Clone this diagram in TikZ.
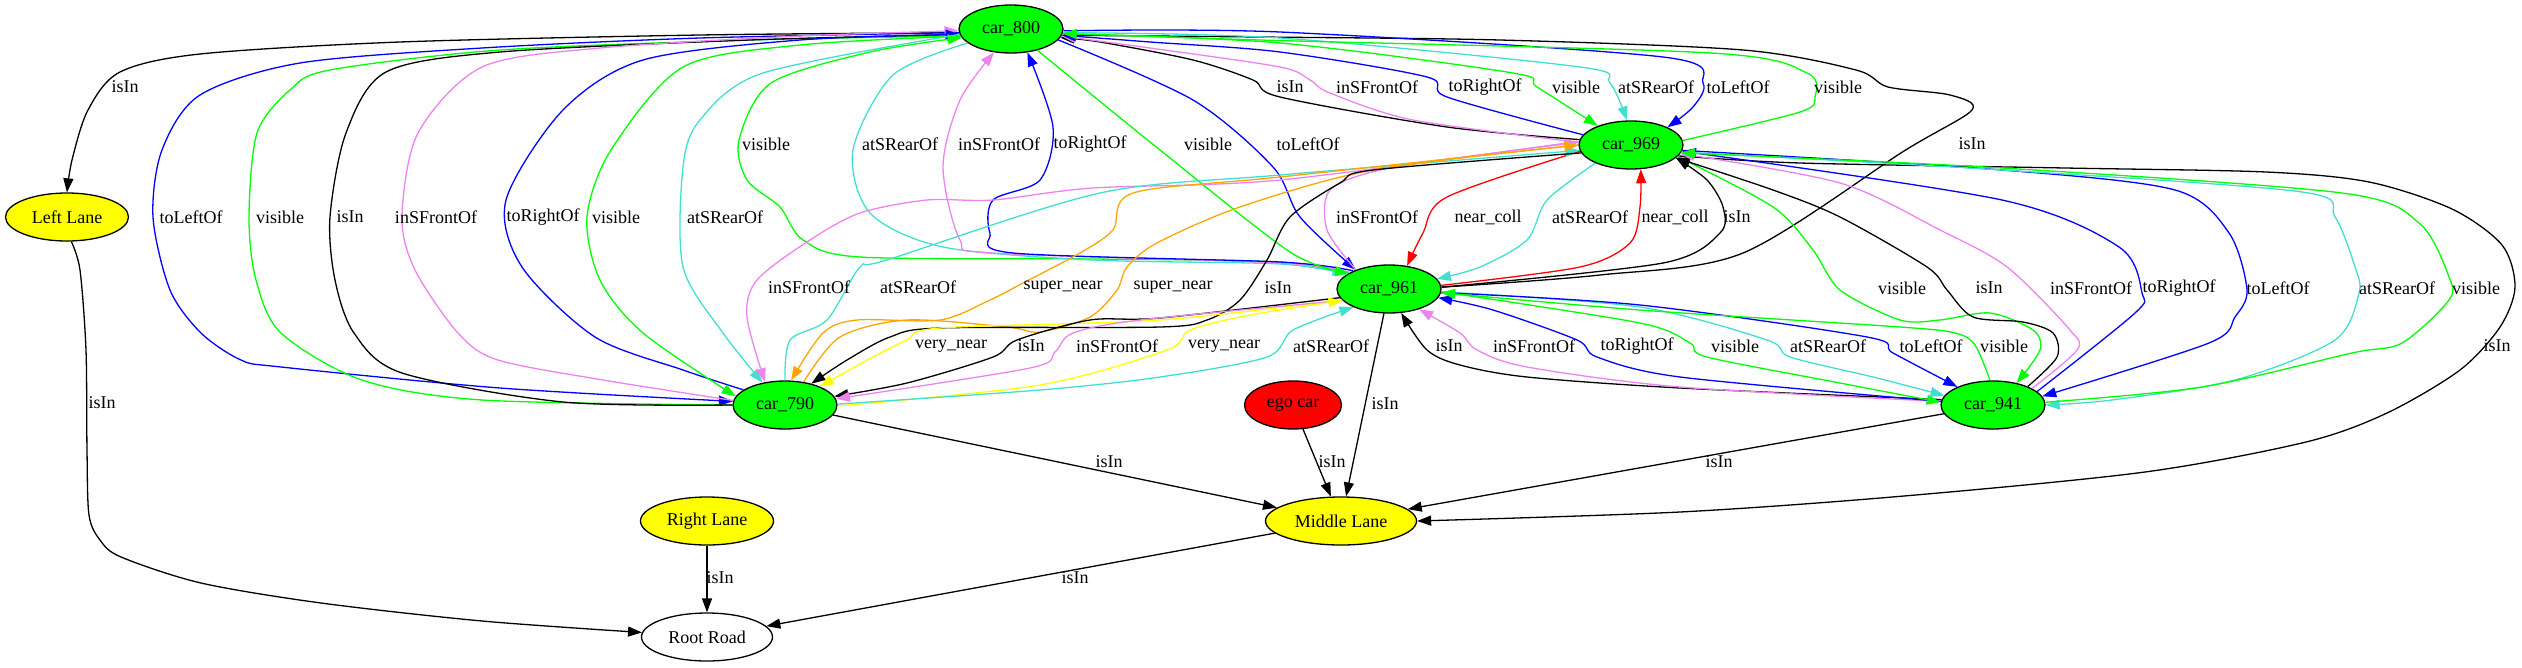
\documentclass[tikz,border=0pt]{standalone}
\usepackage{fontspec}
\setmainfont{Liberation Serif}
\usetikzlibrary{shapes.geometric,arrows.meta}
\definecolor{vgreen}{HTML}{00FF00}
\definecolor{vblue}{HTML}{0000FF}
\definecolor{gviolet}{HTML}{EE82EE}
\definecolor{turq}{HTML}{40E0D0}
\definecolor{gorange}{HTML}{FFA500}
\definecolor{yel}{HTML}{FFFF00}
\definecolor{gred}{HTML}{FF0000}
\tikzset{
  every node/.style={font=\rmfamily\fontsize{18pt}{21pt}\selectfont},
  carn/.style={ellipse, draw, line width=1.3pt, fill=vgreen, minimum width=104pt, minimum height=48pt, inner sep=0pt},
  lanen/.style={ellipse, draw, line width=1.3pt, fill=yel, minimum height=48pt, inner sep=0pt},
  lbl/.style={inner sep=0pt},
  edg/.style={line width=1.3pt, -{Triangle[length=14pt,width=10pt]}},
  sm/.style={smooth, tension=0.5}
}
\begin{document}
\begin{tikzpicture}[x=1pt,y=-1pt]
\useasboundingbox (0,0) rectangle (2522,667);
% nodes
\node[carn] (c800) at (1011,29) {car\_800};
\node[carn] (c969) at (1631,145) {car\_969};
\node[carn] (c961) at (1389,289) {car\_961};
\node[carn] (c790) at (785,405) {car\_790};
\node[carn] (c941) at (1993,405) {car\_941};
\node[ellipse, draw, line width=1.3pt, fill=gred, minimum width=97pt, minimum height=48pt, inner sep=0pt] (ego) at (1293,405) {ego car};
\node[lanen, minimum width=123pt] (ll) at (67,217) {Left Lane};
\node[lanen, minimum width=133pt] (rl) at (707,521) {Right Lane};
\node[lanen, minimum width=151pt] (ml) at (1341,521) {Middle Lane};
\node[ellipse, draw, line width=1.3pt, fill=white, minimum width=131pt, minimum height=48pt, inner sep=0pt] (rr) at (707,637) {Root Road};

% lane edges
\draw[edg] plot[sm] coordinates {(c800.184) (700,35) (400,42) (200,54) (120,72) (88,110) (72,160) (ll.north)};
\draw[edg] plot[sm] coordinates {(ll.-80) (80,270) (86,350) (87,450) (89,515) (100,540) (121,557) (201,583) (321,603) (482,621) (rr.176)};
\draw[edg] (rl) -- (rr);
\draw[edg] (ml) -- (rr);
\draw[edg] (c790) -- (ml);
\draw[edg] (ego) -- (ml);
\draw[edg] (c961) -- (ml);
\draw[edg] (c941) -- (ml);
\draw[edg] plot[sm] coordinates {(c969.347) (1800,163) (2065,168) (2266,172) (2369,182) (2452,209) (2502,245) (2515,287) (2500,327) (2460,370) (2387,413) (2306,442) (2145,472) (1904,496) (1680,512) (ml.east)};

% car_800 <-> car_790
\draw[edg,vblue] plot[sm] coordinates {(c800.184) (700,38) (482,48) (300,63) (200,95) (162,150) (153,217) (170,290) (201,333) (241,360) (281,367) (500,388) (c790.176)};
\draw[edg,vgreen] plot[sm] coordinates {(c790.180) (482,400) (362,380) (281,333) (256,280) (249,217) (257,133) (290,90) (330,70) (500,50) (750,40) (c800.188)};
\draw[edg] plot[sm] coordinates {(c790.180) (563,402) (402,373) (354,333) (335,280) (330,217) (346,133) (386,72) (500,52) (750,40) (c800.186)};
\draw[edg,gviolet] plot[sm] coordinates {(c790.175) (603,380) (498,360) (458,333) (415,270) (402,217) (418,133) (482,67) (600,48) (800,36) (c800.182)};
\draw[edg,vblue] plot[sm] coordinates {(c790.160) (683,370) (595,337) (522,267) (506,200) (563,110) (643,60) (800,40) (c800.186)};
\draw[edg,vgreen] plot[sm] coordinates {(c800.188) (800,45) (683,67) (611,150) (587,217) (600,280) (643,333) (c790.170)};
\draw[edg,turq] plot[sm] coordinates {(c800.186) (763,73) (700,120) (683,167) (683,267) (723,333) (c790.135)};

% car_800 <-> car_961
\draw[edg,vgreen] plot[sm] coordinates {(c961.161) (1280,262) (1093,259) (860,257) (803,240) (780,207) (747,180) (739,140) (771,83) (870,52) (c800.190)};
\draw[edg,turq] plot[sm] coordinates {(c800.198) (893,75) (853,150) (870,213) (943,247) (1093,260) (1280,264) (c961.161)};
\draw[edg,gviolet] plot[sm] coordinates {(c961.157) (1280,263) (993,253) (960,240) (943,167) (960,100) (c800.234)};
\draw[edg,vblue] plot[sm] coordinates {(c961.153) (1280,262) (1013,253) (990,233) (993,200) (1040,180) (1053,127) (c800.305)};
\draw[edg,vgreen] plot[sm] coordinates {(c800.321) (1160,150) (1290,252) (c961.158)};
\draw[edg,vblue] plot[sm] coordinates {(c800.347) (1193,100) (1273,167) (1300,217) (c961.150)};
\draw[edg] plot[sm] coordinates {(c961.2) (1600,275) (1743,253) (1904,151) (1972,110) (1950,95) (1888,87) (1856,70) (1743,50) (1500,40) (1260,37) (c800.353)};

% car_800 <-> car_969
\draw[edg] plot[sm] coordinates {(c969.174) (1447,127) (1280,97) (1253,80) (1193,60) (1100,42) (c800.350)};
\draw[edg,gviolet] plot[sm] coordinates {(c969.177) (1413,120) (1330,93) (1310,80) (1280,67) (1150,48) (c800.352)};
\draw[edg,vblue] plot[sm] coordinates {(c969.168) (1447,97) (1427,77) (1280,52) (1150,42) (c800.353)};
\draw[edg,vgreen] plot[sm] coordinates {(c800.355) (1280,43) (1513,73) (1537,87) (c969.150)};
\draw[edg,turq] plot[sm] coordinates {(c800.356) (1280,38) (1580,67) (1610,83) (c969.99)};
\draw[edg,vblue] plot[sm] coordinates {(c800.358) (1280,32) (1663,57) (1703,83) (1693,107) (c969.26)};
\draw[edg,vgreen] plot[sm] coordinates {(c969.5) (1800,112) (1815,97) (1807,73) (1711,53) (1260,40) (c800.355)};

% car_969 <-> car_961
\draw[edg,gviolet] plot[sm] coordinates {(c961.150) (1327,230) (1330,190) (1380,170) (1480,155) (c969.177)};
\draw[edg,gred] plot[sm] coordinates {(c969.187) (1447,197) (1423,233) (c961.52)};
\draw[edg,turq] plot[sm] coordinates {(c969.207) (1547,200) (1527,240) (1480,267) (c961.12)};
\draw[edg,gred] plot[sm] coordinates {(c961.4) (1580,267) (1630,243) (1640,207) (c969.292)};
\draw[edg] plot[sm] coordinates {(c961.2) (1663,263) (1720,233) (1723,207) (1707,180) (c969.344)};

% car_969 <-> car_790
\draw[edg,gviolet] plot[sm] coordinates {(c969.176) (1280,180) (1093,188) (993,200) (927,200) (860,213) (810,240) (757,280) (747,317) (c790.131)};
\draw[edg,turq] plot[sm] coordinates {(c790.90) (790,340) (827,320) (860,267) (887,260) (1100,193) (1280,175) (c969.186)};
\draw[edg,gorange] plot[sm] coordinates {(c969.180) (1280,177) (1133,193) (1113,230) (1080,253) (1023,283) (990,300) (940,320) (857,320) (823,333) (c790.76)};
\draw[edg,gorange] plot[sm] coordinates {(c790.51) (840,337) (907,320) (1007,327) (1040,332) (1090,317) (1117,290) (1127,267) (1157,243) (1240,207) (1373,170) (c969.180)};
\draw[edg] plot[sm] coordinates {(c969.189) (1373,170) (1340,183) (1290,217) (1267,260) (1240,300) (1207,320) (1160,327) (940,328) (890,337) (847,360) (c790.39)};

% car_961 <-> car_790
\draw[edg,yel] plot[sm] coordinates {(c961.193) (1160,320) (940,328) (907,340) (873,357) (c790.28)};
\draw[edg] plot[sm] coordinates {(c961.190) (1160,318) (1090,320) (1017,340) (993,357) (907,383) (c790.10)};
\draw[edg,gviolet] plot[sm] coordinates {(c961.194) (1140,320) (1073,333) (1055,352) (1030,368) (c790.7)};
\draw[edg,yel] plot[sm] coordinates {(c790.-1) (1040,385) (1167,350) (1190,330) (1250,315) (c961.194)};
\draw[edg,turq] plot[sm] coordinates {(c790.1) (1040,390) (1160,377) (1267,357) (1293,330) (c961.207)};

% car_961 <-> car_941
\draw[edg] plot[sm] coordinates {(c941.174) (1680,388) (1527,377) (1460,365) (1427,350) (c961.297)};
\draw[edg,gviolet] plot[sm] coordinates {(c941.176) (1680,387) (1527,367) (1477,350) (1460,333) (c961.326)};
\draw[edg,vblue] plot[sm] coordinates {(c941.176) (1680,377) (1597,357) (1577,340) (1493,310) (c961.350)};
\draw[edg,vgreen] plot[sm] coordinates {(c961.357) (1640,323) (1690,343) (1707,357) (1840,383) (c941.177)};
\draw[edg,turq] plot[sm] coordinates {(c961.357) (1640,307) (1767,340) (1790,357) (1873,377) (c941.169)};
\draw[edg,vblue] plot[sm] coordinates {(c961.356) (1640,305) (1867,337) (1893,353) (c941.153)};
\draw[edg,vgreen] plot[sm] coordinates {(c941.97) (1975,345) (1955,333) (1900,327) (1640,310) (c961.356)};

% car_969 <-> car_941
\draw[edg,vgreen] plot[sm] coordinates {(c969.346) (1773,207) (1813,250) (1840,290) (1900,320) (1940,320) (1990,313) (2033,330) (2040,350) (c941.43)};
\draw[edg] plot[sm] coordinates {(c941.28) (2057,357) (2053,333) (2023,322) (1973,317) (1947,290) (1927,267) (1840,217) (1773,190) (c969.344)};
\draw[edg,gviolet] plot[sm] coordinates {(c941.23) (2077,350) (2070,330) (2007,267) (1940,230) (1840,183) (c969.350)};
\draw[edg,vblue] plot[sm] coordinates {(c941.17) (2135,313) (2142,293) (2119,247) (2002,200) (c969.353)};
\draw[edg,vblue] plot[sm] coordinates {(c969.354) (2002,170) (2175,190) (2229,233) (2247,290) (2235,317) (2209,343) (c941.10)};
\draw[edg,turq] plot[sm] coordinates {(c969.352) (2002,170) (2302,192) (2335,217) (2355,267) (2359,293) (2335,340) (2235,380) (2112,400) (c941.0)};
\draw[edg,vgreen] plot[sm] coordinates {(c941.3) (2202,387) (2352,353) (2402,343) (2449,300) (2449,277) (2419,223) (2342,193) (2002,168) (c969.351)};

% labels
\node[lbl] (t1) at (125,87) {isIn};
\node[lbl] (t2) at (191,217) {toLeftOf};
\node[lbl] (t3) at (280,217) {visible};
\node[lbl] (t4) at (350,217) {isIn};
\node[lbl] (t5) at (436,217) {inSFrontOf};
\node[lbl] (t6) at (543,217) {toRightOf};
\node[lbl] (t7) at (616,217) {visible};
\node[lbl] (t8) at (725,217) {atSRearOf};
\node[lbl] (t9) at (766,144) {visible};
\node[lbl] (t10) at (900,144) {atSRearOf};
\node[lbl] (t11) at (999,144) {inSFrontOf};
\node[lbl] (t12) at (1090,144) {toRightOf};
\node[lbl] (t13) at (1208,144) {visible};
\node[lbl] (t14) at (1308,144) {toLeftOf};
\node[lbl] (t15) at (1972,144) {isIn};
\node[lbl] (t16) at (1290,87) {isIn};
\node[lbl] (t17) at (1377,87) {inSFrontOf};
\node[lbl] (t18) at (1485,87) {toRightOf};
\node[lbl] (t19) at (1576,87) {visible};
\node[lbl] (t20) at (1656,87) {atSRearOf};
\node[lbl] (t21) at (1738,87) {toLeftOf};
\node[lbl] (t22) at (1838,87) {visible};
\node[lbl] (t23) at (1377,217) {inSFrontOf};
\node[lbl] (t24) at (1488,217) {near\_coll};
\node[lbl] (t25) at (1590,217) {atSRearOf};
\node[lbl] (t26) at (1675,217) {near\_coll};
\node[lbl] (t27) at (1737,217) {isIn};
\node[lbl] (t28) at (809,287) {inSFrontOf};
\node[lbl] (t29) at (918,287) {atSRearOf};
\node[lbl] (t30) at (1063,287) {super\_near};
\node[lbl] (t31) at (1173,287) {super\_near};
\node[lbl] (t32) at (1278,288) {isIn};
\node[lbl] (t33) at (1902,288) {visible};
\node[lbl] (t34) at (1989,288) {isIn};
\node[lbl] (t35) at (2091,288) {inSFrontOf};
\node[lbl] (t36) at (2179,288) {toRightOf};
\node[lbl] (t37) at (2278,288) {toLeftOf};
\node[lbl] (t38) at (2397,288) {atSRearOf};
\node[lbl] (t39) at (2476,288) {visible};
\node[lbl] (t40) at (951,346) {very\_near};
\node[lbl] (t41) at (1031,346) {isIn};
\node[lbl] (t42) at (1117,346) {inSFrontOf};
\node[lbl] (t43) at (1224,346) {very\_near};
\node[lbl] (t44) at (1331,346) {atSRearOf};
\node[lbl] (t45) at (1449,346) {isIn};
\node[lbl] (t46) at (1534,346) {inSFrontOf};
\node[lbl] (t47) at (1637,346) {toRightOf};
\node[lbl] (t48) at (1735,346) {visible};
\node[lbl] (t49) at (1828,346) {atSRearOf};
\node[lbl] (t50) at (1931,346) {toLeftOf};
\node[lbl] (t51) at (2004,346) {visible};
\node[lbl] (t52) at (2497,346) {isIn};
\node[lbl] (t53) at (102,403) {isIn};
\node[lbl] (t54) at (1385,404) {isIn};
\node[lbl] (t55) at (1109,462) {isIn};
\node[lbl] (t56) at (1332,462) {isIn};
\node[lbl] (t57) at (1719,462) {isIn};
\node[lbl] (t58) at (720,578) {isIn};
\node[lbl] (t59) at (1075,578) {isIn};
\end{tikzpicture}
\end{document}
